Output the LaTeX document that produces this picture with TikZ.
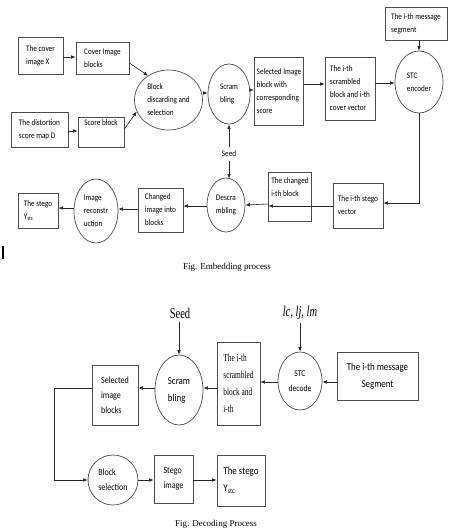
\documentclass[tikz,border=0pt]{standalone}
\usepackage{fontspec}
\usetikzlibrary{shapes.geometric,arrows.meta}
\newfontfamily\carl[FakeStretch=0.85]{Carlito}
\newfontfamily\cserif[FakeStretch=0.7]{Liberation Serif}
\newfontfamily\capserif{Liberation Serif}
\tikzset{
  bx/.style={draw=black!70, line width=0.7pt, rectangle, inner sep=2.5pt, align=left},
  el/.style={draw=black!70, line width=0.7pt, ellipse, inner sep=0pt, align=left},
  tf/.style={font=\carl\fontsize{8.5}{13}\selectfont},
  bf/.style={font=\carl\fontsize{9.5}{15}\selectfont},
  arr/.style={-{Latex[length=4.5pt,width=3.6pt]}, line width=0.6pt, black!85},
}
\begin{document}
\begin{tikzpicture}[x=1pt,y=-1pt]
\useasboundingbox[fill=white] (0,0) rectangle (448,531);
% ---------- top figure ----------
\node[bx,tf,minimum width=45pt,minimum height=37pt] (cx) at (40.5,55.5) {The cover\\image X};
\node[bx,tf,minimum width=53pt,minimum height=32pt] (cb) at (102.5,58) {Cover Image\\blocks};
\node[bx,tf,minimum width=57pt,minimum height=35pt] (dm) at (39.5,129.5) {The distortion\\score map D};
\node[bx,tf,minimum width=46pt,minimum height=30pt] (sb) at (101,132) {Score block\\[6pt]};
\node[el,tf,minimum width=68pt,minimum height=60pt] (bd) at (168.5,100) {Block\\discarding and\\selection};
\node[el,tf,minimum width=42pt,minimum height=60pt] (sc) at (229,94) {Scram\\bling};
\node[bx,tf,minimum width=48pt,minimum height=68pt] (sel) at (279,91) {Selected Image\\block with\\corresponding\\score};
\node[bx,tf,minimum width=50pt,minimum height=63pt] (ith) at (350,88.5) {The i-th\\scrambled\\block and i-th\\cover vector};
\node[el,tf,minimum width=48pt,minimum height=62pt] (stc) at (419,82) {STC\\encoder};
\node[bx,tf,minimum width=62pt,minimum height=33pt] (msg) at (416,23.5) {The i-th message\\segment};
\node[bx,tf,minimum width=50pt,minimum height=45pt] (sv) at (358,205.5) {The i-th stego\\vector};
\node[bx,tf,minimum width=42pt,minimum height=49pt] (chg) at (290,196.5) {The changed\\i-th block\\[6pt]};
\node[el,tf,minimum width=38pt,minimum height=54pt] (ds) at (226,205) {Descra\\mbling};
\node[tf] (seed) at (229,154) {Seed};
\node[bx,tf,minimum width=45pt,minimum height=44pt] (cib) at (160.5,210) {Changed\\image into\\blocks};
\node[el,tf,minimum width=44pt,minimum height=64pt] (rec) at (96,211) {Image\\reconstr\\uction};
\node[bx,tf,minimum width=40pt,minimum height=35pt] (yst) at (38,210.5) {The stego\\Y\textsubscript{stc}};
\draw[line width=1.2pt] (3,246) -- (3,259);
\node[font=\capserif\fontsize{9}{10}\selectfont] (cap1) at (227,267) {Fig. Embedding process};
% arrows top
\draw[arr] (cx.east |- 0,57) -- (cb.west |- 0,57);
\draw[arr] (dm.east |- 0,131) -- (sb.west |- 0,131);
\draw[arr] (cb.east |- 0,63) -- (bd.130);
\draw[arr] (sb.east |- 0,129) -- (bd.200);
\draw[arr] (bd.east |- 0,93) -- (sc.west |- 0,93);
\draw[arr] (sc.east |- 0,90) -- (sel.west |- 0,90);
\draw[arr] (sel.east |- 0,84) -- (ith.west |- 0,84);
\draw[arr] (ith.east |- 0,83) -- (stc.west |- 0,83);
\draw[arr] (msg.south -| stc) -- (stc.north);
\draw[arr] (stc.south) |- (sv.east |- 0,203);
\draw[arr] (sv.west |- 0,206) -- (chg.west |- 0,206);
\draw[arr] (chg.west |- 0,204) -- (ds.east);
\draw[arr] (ds.west |- 0,206) -- (cib.east |- 0,206);
\draw[arr] (cib.west |- 0,209) -- (rec.east |- 0,209);
\draw[arr] (rec.west |- 0,208) -- (yst.east |- 0,208);
\draw[arr] (seed.north) -- (sc.south);
\draw[arr] (seed.south) -- (seed.south |- 0,178.5);
% ---------- bottom figure ----------
\node[font=\cserif\fontsize{15}{16}\selectfont] (seed2) at (180,313) {Seed};
\node[font=\cserif\itshape\fontsize{15}{16}\selectfont] (lc) at (300,313) {lc, lj, lm};
\node[bx,bf,minimum width=46pt,minimum height=60pt] (sel2) at (115,395) {Selected\\image\\blocks};
\node[el,font=\carl\fontsize{10.5}{17}\selectfont,minimum width=48pt,minimum height=70pt] (sc2) at (179,390) {Scram\\bling};
\node[bx,font=\cserif\fontsize{10.5}{17}\selectfont,minimum width=43pt,minimum height=83pt] (ith2) at (238.5,383.5) {The i-th\\scrambled\\block and\\i-th};
\node[el,font=\carl\fontsize{9}{15}\selectfont,align=center,minimum width=44pt,minimum height=58pt] (dec) at (300,381) {STC\\decode};
\node[bx,font=\carl\fontsize{10.5}{17}\selectfont,align=center,minimum width=81pt,minimum height=48pt] (msg2) at (377.5,376) {The i-th message\\Segment};
\node[el,bf,minimum width=50pt,minimum height=50pt] (bs) at (113,480) {Block\\selection};
\node[bx,bf,minimum width=39pt,minimum height=48pt] (si) at (173.5,479) {Stego\\image};
\node[bx,font=\carl\fontsize{10.5}{17}\selectfont,minimum width=48pt,minimum height=51pt] (yst2) at (241,480.5) {The stego\\Y\textsubscript{stc}};
\node[font=\capserif\fontsize{9}{10}\selectfont] (cap2) at (216,524) {Fig. Decoding Process};
\coordinate (lp) at (54,388);
% arrows bottom
\draw[arr] (sc2.north |- seed2.south) -- (sc2.north);
\draw[arr] (dec.north |- lc.south) -- (dec.north);
\draw[arr] (msg2.west |- 0,382) -- (dec.east |- 0,382);
\draw[arr] (dec.west |- 0,382) -- (ith2.east |- 0,382);
\draw[arr] (ith2.west |- 0,388) -- (sc2.east |- 0,388);
\draw[arr] (sc2.west |- 0,388) -- (sel2.east |- 0,388);
\draw[arr] (sel2.west |- lp) -- (lp) |- (bs.west);
\draw[arr] (bs.east) -- (si.west |- bs.east);
\draw[arr] (si.east |- bs.east) -- (yst2.west |- bs.east);
\end{tikzpicture}
\end{document}
